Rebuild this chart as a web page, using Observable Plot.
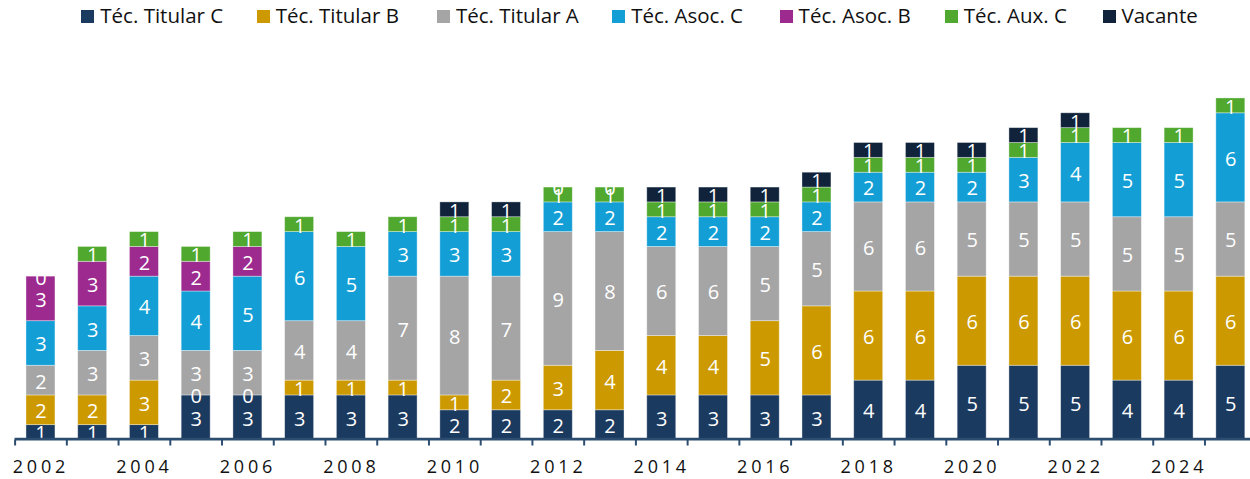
<!DOCTYPE html>
<html><head><meta charset="utf-8">
<script src="https://cdn.jsdelivr.net/npm/d3@7"></script>
<script src="https://cdn.jsdelivr.net/npm/@observablehq/plot@0.6"></script>
<style>
body{margin:0;background:#fff;font-family:"Open Sans",sans-serif;}
#legend{position:relative;height:30px;width:1250px;}
.item{position:absolute;top:0;height:30px;}
.sw{position:absolute;left:0;top:10px;width:13px;height:13px;}
.lb{position:absolute;left:19px;top:4px;font-size:20.5px;line-height:22px;white-space:nowrap;color:#111;}
#chart svg [aria-label="x-axis tick label"] text{letter-spacing:3.8px}
</style>
</head><body>
<div id="legend"></div><div id="chart"></div>
<script>
const years = [2002,2003,2004,2005,2006,2007,2008,2009,2010,2011,2012,2013,2014,2015,2016,2017,2018,2019,2020,2021,2022,2023,2024,2025];
const labelYears = [2002,2004,2006,2008,2010,2012,2014,2016,2018,2020,2022,2024];
const seriesNames = ["Téc. Titular C","Téc. Titular B","Téc. Titular A","Téc. Asoc. C","Téc. Asoc. B","Téc. Aux. C","Vacante"];
const titularC = [1,1,1,3,3,3,3,3,2,2,2,2,3,3,3,3,4,4,5,5,5,4,4,5];
const titularB = [2,2,3,0,0,1,1,1,1,2,3,4,4,4,5,6,6,6,6,6,6,6,6,6];
const titularA = [2,3,3,3,3,4,4,7,8,7,9,8,6,6,5,5,6,6,5,5,5,5,5,5];
const asocC    = [3,3,4,4,5,6,5,3,3,3,2,2,2,2,2,2,2,2,2,3,4,5,5,6];
const asocB    = [3,3,2,2,2,null,null,null,null,null,null,null,null,null,null,null,null,null,null,null,null,null,null,null];
const auxC     = [0,1,1,1,1,1,1,1,1,1,1,1,1,1,1,1,1,1,1,1,1,1,1,1];
const vacante  = [null,null,null,null,null,null,null,null,1,1,0,0,1,1,1,1,1,1,1,1,1,null,null,null];
const colors = ["#1b3a5f","#cc9a00","#a5a5a5","#139fd6","#9c2a8f","#50a82e","#10233b"];

const allSeries = [titularC,titularB,titularA,asocC,asocB,auxC,vacante];
const data = [];
seriesNames.forEach((s,i)=>allSeries[i].forEach((v,j)=>{ if(v!=null) data.push({year:years[j],series:s,value:v}); }));

// legend
const legendX = [81.3,256.7,436.9,612.2,779.6,944.7,1102.5];
const lg = document.getElementById("legend");
seriesNames.forEach((s,i)=>{
  const it = document.createElement("div"); it.className="item"; it.style.left=legendX[i]+"px";
  const sw = document.createElement("div"); sw.className="sw"; sw.style.background=colors[i];
  const lb = document.createElement("div"); lb.className="lb"; lb.textContent=s;
  it.appendChild(sw); it.appendChild(lb); lg.appendChild(it);
});

const axisColor = "#2d4d70";
const chart = Plot.plot({
  width:1250, height:449,
  marginLeft:14.6, marginRight:-6.2, marginTop:23.4, marginBottom:39.5,
  x:{type:"band", domain:years, paddingInner:0.44, paddingOuter:0.22, round:false, axis:null},
  y:{domain:[0,26], axis:null},
  color:{domain:seriesNames, range:colors},
  style:{fontFamily:"'Open Sans', sans-serif", background:"transparent", overflow:"visible"},
  marks:[
    Plot.barY(data.filter(d=>d.value>0), {x:"year", y:"value", fill:"series", z:"series", order:seriesNames, stroke:"#ffffff", strokeOpacity:0.45, strokeWidth:0.8}),
    Plot.text(data, Plot.stackY({x:"year", y:"value", z:"series", order:seriesNames, text:d=>String(d.value), fill:"white", fontSize:20, dy:1.5})),
    Plot.ruleY([0], {stroke:axisColor, strokeWidth:2.7, dy:-0.8}),
    Plot.axisX({ticks:years, tickSize:6, tickFormat:()=> "", label:null, dx:-25.87, stroke:axisColor, strokeWidth:2}),
    Plot.axisX({ticks:labelYears, tickSize:0, tickPadding:20, fontSize:18, fill:"#111111", label:null, tickFormat:d=>String(d)})
  ]
});
document.getElementById("chart").appendChild(chart);
</script>
</body></html>
